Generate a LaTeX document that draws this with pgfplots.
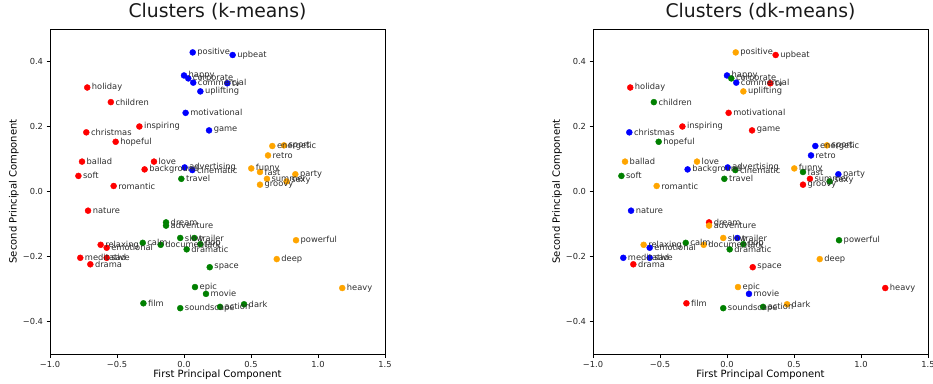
\documentclass[border=0pt]{standalone}
\usepackage{fontspec}
\setmainfont{DejaVu Sans}
\usepackage{pgfplots}
\usepackage{pgfplotstable}
\pgfplotsset{compat=1.18}
\definecolor{mblue}{RGB}{0,0,255}
\definecolor{mred}{RGB}{255,0,0}
\definecolor{mgreen}{RGB}{0,128,0}
\definecolor{morange}{RGB}{255,165,0}

% cluster ids: 0 = blue, 1 = red, 2 = green, 3 = orange
\pgfplotstableread{
x y word km dk
0.065 0.428 positive 0 3
0.000 0.357 happy 0 0
0.032 0.348 corporate 0 2
0.069 0.335 commercial 0 0
0.122 0.308 uplifting 0 3
0.012 0.242 motivational 0 1
0.187 0.188 game 0 1
-0.722 0.320 holiday 1 1
-0.546 0.275 children 1 2
-0.333 0.200 inspiring 1 1
-0.729 0.182 christmas 1 0
-0.510 0.153 hopeful 1 2
-0.761 0.092 ballad 1 3
-0.224 0.092 love 1 3
-0.294 0.068 background 1 0
0.005 0.074 advertising 0 0
0.062 0.066 cinematic 0 2
-0.020 0.039 travel 2 2
-0.788 0.048 soft 1 2
-0.525 0.017 romantic 1 3
0.363 0.420 upbeat 0 1
0.323 0.333 tv 0 1
0.659 0.140 energetic 3 0
0.746 0.142 sport 3 3
0.627 0.111 retro 3 0
0.502 0.071 funny 3 3
0.567 0.060 fast 3 2
0.619 0.039 summer 3 1
0.831 0.053 party 3 0
0.766 0.031 sexy 3 2
0.567 0.021 groovy 3 1
-0.716 -0.059 nature 1 0
-0.134 -0.095 dream 2 1
-0.134 -0.105 adventure 2 3
-0.028 -0.143 slow 2 3
0.077 -0.143 trailer 2 0
-0.622 -0.164 relaxing 1 3
-0.577 -0.173 emotional 1 0
-0.308 -0.158 calm 2 2
-0.174 -0.164 documentary 2 3
0.122 -0.162 pop 2 2
0.020 -0.178 dramatic 2 2
-0.774 -0.204 meditative 1 0
-0.577 -0.204 sad 1 0
-0.699 -0.224 drama 1 1
0.192 -0.233 space 2 1
0.082 -0.294 epic 2 3
0.164 -0.315 movie 2 0
-0.303 -0.344 film 2 1
-0.028 -0.359 soundscape 2 2
0.269 -0.355 action 2 2
0.448 -0.347 dark 2 3
0.836 -0.150 powerful 3 2
0.692 -0.208 deep 3 3
1.181 -0.297 heavy 3 1
}\words

\pgfplotsset{
  clusteraxis/.style={
    anchor=south west,
    width=335pt, height=325pt, scale only axis,
    xmin=-1, xmax=1.5, ymin=-0.5, ymax=0.5,
    xtick={-1,-0.5,0,0.5,1,1.5},
    xticklabels={−1.0,−0.5,0.0,0.5,1.0,1.5},
    ytick={-0.4,-0.2,0,0.2,0.4},
    yticklabels={−0.4,−0.2,0.0,0.2,0.4},
    tick align=outside,
    major tick length=3.5pt,
    xtick pos=bottom, ytick pos=left,
    tick style={black, line width=0.8pt},
    axis line style={black, line width=0.8pt},
    ticklabel style={font=\fontsize{8.3}{10}\selectfont, text=black!85},
    label style={font=\fontsize{8.3}{10}\selectfont, text=black!85},
    xlabel={First Principal Component},
    ylabel={Second Principal Component},
    every axis x label/.style={at={(axis description cs:0.5,-0.0646)}, anchor=center},
    every axis y label/.style={at={(axis description cs:-0.1075,0.5)}, anchor=center, rotate=90},
    title style={font=\fontsize{18.8}{22}\selectfont, text=black!90, at={(axis description cs:0.5,1)}, anchor=base, yshift=5.7pt},
    nodes near coords style={anchor=west, inner sep=0pt, xshift=4.5pt,
      font=\fontsize{8.3}{10}\selectfont, text=black!82},
  },
  clustermarks/.style n args={3}{
    only marks, mark=*, mark size=3pt, color=#2,
    mark options={draw=#2, fill=#2},
    restrict expr to domain={\thisrow{#1}}{#3:#3},
  },
  clusterlabels/.style={
    only marks, mark=none,
    point meta=explicit symbolic,
    nodes near coords,
  },
}

\begin{document}
\begin{tikzpicture}
\useasboundingbox (0,0) rectangle (933pt,383pt);
\begin{axis}[clusteraxis, at={(50pt,29pt)}, title={Clusters (k-means)}]
\addplot[clustermarks={km}{mblue}{0}] table[x=x, y=y] {\words};
\addplot[clustermarks={km}{mred}{1}] table[x=x, y=y] {\words};
\addplot[clustermarks={km}{mgreen}{2}] table[x=x, y=y] {\words};
\addplot[clustermarks={km}{morange}{3}] table[x=x, y=y] {\words};
\addplot[clusterlabels] table[x=x, y=y, meta=word] {\words};
\end{axis}
\begin{axis}[clusteraxis, at={(593pt,29pt)}, title={Clusters (dk-means)}]
\addplot[clustermarks={dk}{mblue}{0}] table[x=x, y=y] {\words};
\addplot[clustermarks={dk}{mred}{1}] table[x=x, y=y] {\words};
\addplot[clustermarks={dk}{mgreen}{2}] table[x=x, y=y] {\words};
\addplot[clustermarks={dk}{morange}{3}] table[x=x, y=y] {\words};
\addplot[clusterlabels] table[x=x, y=y, meta=word] {\words};
\end{axis}
\end{tikzpicture}
\end{document}
